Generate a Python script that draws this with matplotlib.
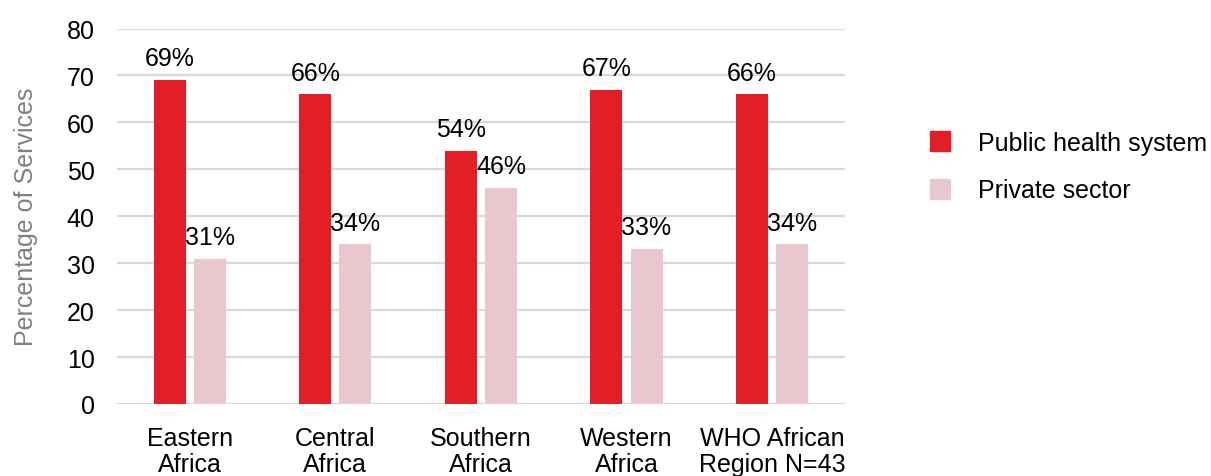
import matplotlib
matplotlib.use("Agg")
import matplotlib.pyplot as plt
from matplotlib.lines import Line2D
import numpy as np

plt.rcParams['font.family'] = ['Liberation Sans', 'DejaVu Sans']

categories = ["Eastern\nAfrica", "Central\nAfrica", "Southern\nAfrica", "Western\nAfrica", "WHO African\nRegion N=43"]
public = [69, 66, 54, 67, 66]
private = [31, 34, 46, 33, 34]
series_names = ["Public health system", "Private sector"]
yticks = [0, 10, 20, 30, 40, 50, 60, 70, 80]

RED = "#e31e26"
PINK = "#e9c7cf"
GRID = "#d9d9d9"
TEXT = "#000000"
FS = 18

fig = plt.figure(figsize=(12.11, 4.77), dpi=100)
ax = fig.add_axes([0.0966, 0.151, 0.601, 0.787])

x = np.arange(len(categories))
w = 0.22
off = 0.138
b1 = ax.bar(x - off, public, width=w, color=RED, zorder=3)
b2 = ax.bar(x + off, private, width=w, color=PINK, zorder=3)

for bars, vals in ((b1, public), (b2, private)):
    for rect, v in zip(bars, vals):
        ax.annotate(f"{v}%", (rect.get_x() + rect.get_width() / 2, v),
                    xytext=(0, 7), textcoords="offset points",
                    ha="center", va="bottom", fontsize=FS, color=TEXT)

ax.set_xlim(-0.5, len(categories) - 0.5)
ax.set_ylim(0, 80)
ax.set_yticks(yticks)
ax.set_yticklabels([str(t) for t in yticks])
ax.set_xticks(x)
ax.set_xticklabels(categories, linespacing=1.1)
ax.tick_params(axis="both", length=0, labelsize=FS, labelcolor=TEXT)
ax.tick_params(axis="y", pad=16)
ax.tick_params(axis="x", pad=16)
ax.yaxis.grid(True, color=GRID, linewidth=1.6, zorder=0)
ax.set_axisbelow(True)
for s in ax.spines.values():
    s.set_visible(False)

ax.set_ylabel("Percentage of Services", fontsize=FS, color="#808080", labelpad=21)

handles = [Line2D([], [], linestyle="none", marker="s", markersize=14.5,
                  markerfacecolor=c, markeredgecolor=c) for c in (RED, PINK)]
fig.legend(handles, series_names, loc="upper left", bbox_to_anchor=(0.758, 0.745),
           frameon=False, fontsize=FS, labelspacing=0.95, handletextpad=1.0,
           handlelength=1.0, borderaxespad=0)

fig.savefig("out.png", dpi=100, facecolor="white")
